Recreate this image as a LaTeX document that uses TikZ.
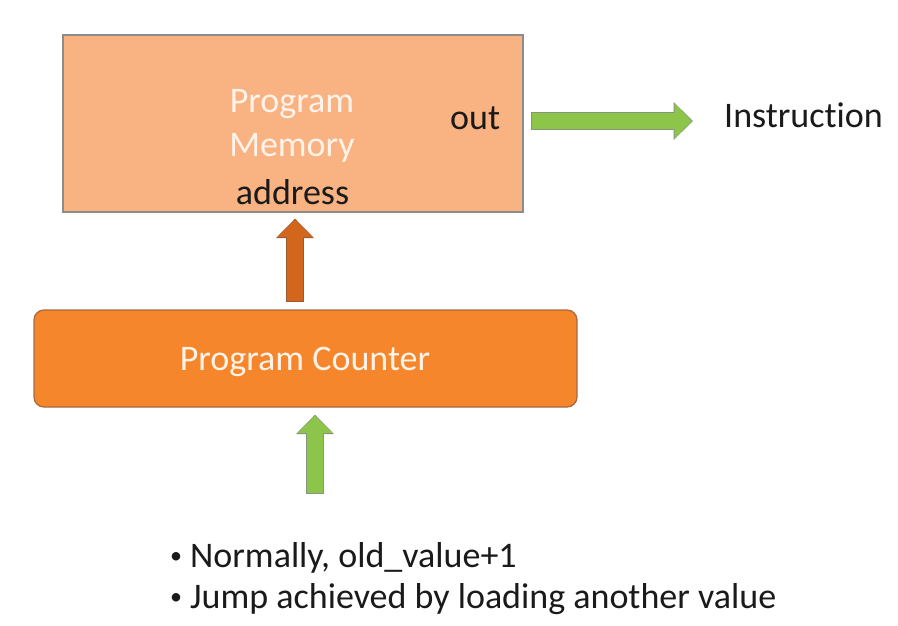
\documentclass[tikz,border=0pt]{standalone}
\usepackage{fontspec}
\setmainfont{Carlito}[Ligatures=NoCommon]
\usetikzlibrary{arrows.meta,calc}

\definecolor{memfill}{HTML}{F9B282}
\definecolor{memline}{HTML}{8C8C8C}
\definecolor{pcfill}{HTML}{F6862C}
\definecolor{pcline}{HTML}{A86A3E}
\definecolor{addrarrow}{HTML}{D2661C}
\definecolor{addrrim}{HTML}{9C5A30}
\definecolor{flowgreen}{HTML}{8DC44A}
\definecolor{greenrim}{HTML}{86967A}
\definecolor{lighttext}{HTML}{FFF3EA}
\definecolor{darktext}{HTML}{1A1A1A}

% small raised bullet followed by the tab gap
\newcommand{\notebullet}{\makebox[22pt][l]{\hspace{2pt}\raisebox{4pt}{\fontsize{24}{24}\selectfont\textbullet}}}

\tikzset{
  label font/.style={font=\fontsize{36}{44}\selectfont, inner sep=0pt},
  dark label/.style={label font, text=darktext},
  light label/.style={label font, text=lighttext},
  membox/.style={draw=memline, line width=1.3pt, fill=memfill,
    minimum width=460pt, minimum height=177pt, inner sep=0pt},
  pcbox/.style={draw=pcline, line width=1.3pt, fill=pcfill, rounded corners=10pt,
    minimum width=543pt, minimum height=97pt, inner sep=0pt},
  arrowrim/.style={draw=#1, line width=18pt,
    -{Triangle[width=37pt,length=19.5pt]}},
  arrowbody/.style={draw=#1, line width=16pt,
    -{Triangle[width=34pt,length=17pt]}, shorten >=1.3pt, shorten <=1pt},
}

\begin{document}
\begin{tikzpicture}[x=1pt,y=-1pt]
  \useasboundingbox[fill=white] (0,0) rectangle (898,626);

  % program memory block and its labels
  \node[membox] (mem) at (293,123.5) {};
  \node[light label, anchor=base] (memtop) at (292,113) {Program};
  \node[light label, anchor=base] (membot) at (292,157) {Memory};
  \node[dark label, anchor=base] (addr) at (292.5,204) {address};
  \node[dark label, anchor=base west] (out) at (450,129) {out};

  % program counter block
  \node[pcbox] (pc) at (305.5,358.5) {};
  \node[light label, anchor=base] (pclabel) at (305,370) {Program Counter};

  % instruction output (t and i kept as separate glyphs)
  \node[dark label, anchor=base west] (instr) at (724,128) {Instruct\kern0pt ion};

  % notes on how the counter advances
  \node[dark label, anchor=base west] (note1) at (168,567)
    {\notebullet Normally, old\_value+1};
  \node[dark label, anchor=base west] (note2) at (168,608)
    {\notebullet Jump achieved by loading another value};

  % arrow end points
  \coordinate (outstart) at ($(mem.east)+(7,-2.5)$);
  \coordinate (outend) at ($(instr.west)+(-31,0)$);
  \coordinate (addrstart) at ($(pc.north)+(-10.5,-7)$);
  \coordinate (addrend) at ($(mem.south)+(2,6)$);
  \coordinate (nextstart) at ($(pc.south)+(9.5,86)$);
  \coordinate (nextend) at ($(pc.south)+(9.5,7)$);

  % block arrows: darker rim underneath, coloured body on top
  \draw[arrowrim=greenrim] (outstart) -- (outstart -| outend);
  \draw[arrowbody=flowgreen] (outstart) -- (outstart -| outend);

  \draw[arrowrim=addrrim] (addrstart) -- (addrend);
  \draw[arrowbody=addrarrow] (addrstart) -- (addrend);

  \draw[arrowrim=greenrim] (nextstart) -- (nextend);
  \draw[arrowbody=flowgreen] (nextstart) -- (nextend);
\end{tikzpicture}
\end{document}
